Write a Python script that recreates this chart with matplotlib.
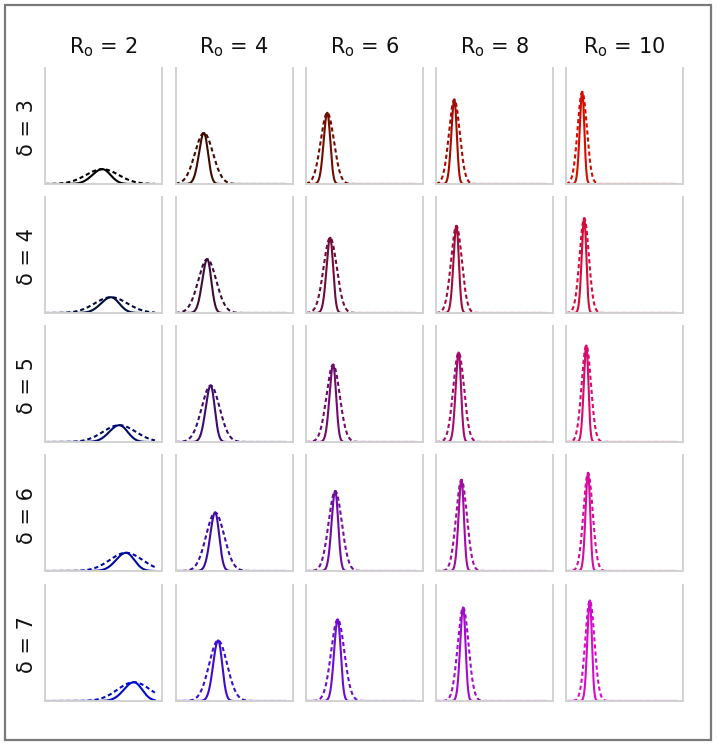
import numpy as np
import matplotlib
matplotlib.use("Agg")
import matplotlib.pyplot as plt
from matplotlib.patches import Rectangle

# ---- data ----
r0_values = [2, 4, 6, 8, 10]
delta_values = [3, 4, 5, 6, 7]

# peak location (x units, panel runs 0..106.5, curves drawn 0..100), rows = delta, cols = R0
peak_pos = [
    [52.2, 25.9, 19.4, 16.7, 14.8],
    [60.1, 28.9, 22.0, 18.6, 16.6],
    [67.7, 32.0, 24.7, 20.6, 18.5],
    [73.8, 36.1, 26.6, 23.2, 20.1],
    [80.9, 38.8, 28.9, 24.7, 21.7],
]
# peak height (fraction of shared y range 0..1)
peak_height = [
    [0.128, 0.440, 0.614, 0.728, 0.794],
    [0.136, 0.464, 0.649, 0.751, 0.817],
    [0.145, 0.487, 0.667, 0.771, 0.832],
    [0.157, 0.504, 0.690, 0.786, 0.846],
    [0.162, 0.522, 0.704, 0.806, 0.867],
]
# spread of the solid curve per R0 column, and dashed/solid spread ratio
solid_spread = [8.3, 4.1, 3.0, 2.45, 2.1]
dashed_ratio = [1.8, 2.0, 2.0, 2.0, 2.0]

# colour components: red grows with R0, blue grows with delta
red_levels = [0, 62, 112, 162, 214]
blue_levels = [0, 58, 110, 160, 205]

# ---- figure ----
W, H = 717, 745
fig = plt.figure(figsize=(W / 100, H / 100), dpi=100)
plt.rcParams["mathtext.fontset"] = "dejavusans"
font = ["DejaVu Sans"]

col_left = [45, 175.5, 306, 436, 566]
row_top = [68, 197, 326, 455, 585]
ax_w, ax_h = 117, 116

x = np.linspace(0, 100, 800)

for i, d in enumerate(delta_values):
    for j, r in enumerate(r0_values):
        l = col_left[j] / W
        b = 1 - (row_top[i] + ax_h) / H
        ax = fig.add_axes([l, b, ax_w / W, ax_h / H])
        g = 0 if (i == 0 and j == 0) else 12
        color = (red_levels[j] / 255, g / 255, blue_levels[i] / 255)
        mu = peak_pos[i][j]
        h = peak_height[i][j]
        s = solid_spread[j]
        sl, sr = 1.1 * s, 0.9 * s
        solid = np.where(x < mu, h * np.exp(-0.5 * ((x - mu) / sl) ** 2),
                         h * np.exp(-0.5 * ((x - mu) / sr) ** 2))
        sd = s * dashed_ratio[j]
        dashed = h * np.exp(-0.5 * ((x - mu) / sd) ** 2)
        ax.plot(x, dashed, color=color, lw=1.5, ls=(0, (2.0, 1.4)))
        ax.plot(x, solid, color=color, lw=1.5)
        ax.set_xlim(0, 106.5)
        ax.set_ylim(0, 1)
        ax.set_xticks([])
        ax.set_yticks([])
        ax.spines["top"].set_visible(False)
        for sp in ("left", "right", "bottom"):
            ax.spines[sp].set_color("#d2d2d2")
            ax.spines[sp].set_linewidth(1.4)

for j, r in enumerate(r0_values):
    cx = (col_left[j] + ax_w / 2) / W
    fig.text(cx, 1 - 47 / H, r"R$_\mathregular{o}$ = " + str(r), ha="center", va="center",
             fontsize=15, family=font, color="#111111")

for i, d in enumerate(delta_values):
    cy = 1 - (row_top[i] + ax_h / 2 + 2) / H
    fig.text(27 / W, cy, f"\u03b4 = {d}", ha="center", va="center",
             rotation=90, fontsize=15, family=font, color="#111111")

fig.patches.append(Rectangle((5 / W, 5 / H), 706 / W, 735 / H, transform=fig.transFigure,
                             fill=False, edgecolor="#7a7a7a", linewidth=1.6))

fig.savefig("out.png", dpi=100)
